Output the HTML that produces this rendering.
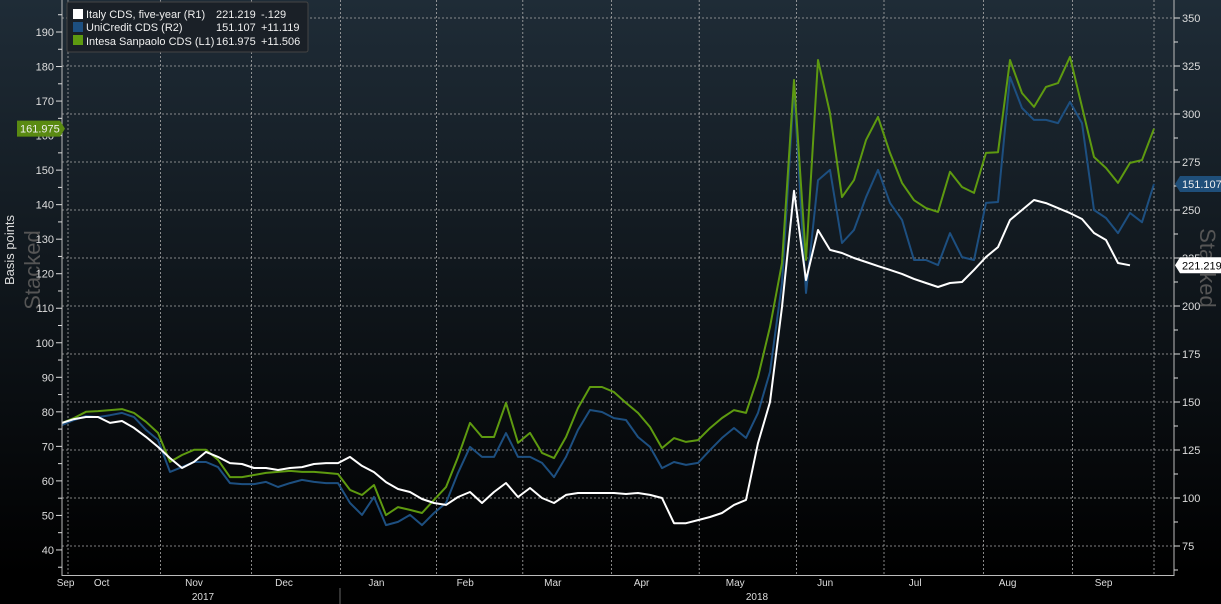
<!DOCTYPE html>
<html><head><meta charset="utf-8"><style>
html,body{margin:0;padding:0;background:#000;}
svg{display:block;font-family:"Liberation Sans",sans-serif;}
</style></head><body>
<svg id="chart" width="1221" height="604" viewBox="0 0 1221 604">
<defs><linearGradient id="bg" x1="0" y1="0" x2="0" y2="1"><stop offset="0" stop-color="#1f2c37"/><stop offset="1" stop-color="#000"/></linearGradient></defs>
<rect x="0" y="0" width="1221" height="576" fill="url(#bg)"/>
<text x="14" y="250" fill="#ddd" font-size="13" transform="rotate(-90 14 250)" text-anchor="middle">Basis points</text>
<text x="40" y="270" fill="#555" font-size="22" transform="rotate(-90 40 270)" text-anchor="middle">Stacked</text>
<text x="1200" y="268" fill="#555" font-size="22" transform="rotate(90 1200 268)" text-anchor="middle">Stacked</text>
<g id="grid"></g>
<g id="series"></g>
<g id="axes"></g>
<g>
<rect x="67" y="2" width="241" height="50" rx="2" fill="#1a2027" stroke="#444"/>
<g><rect x="73" y="9" width="10" height="10" fill="#fff"/><text x="86" y="18" fill="#eee" font-size="11">Italy CDS, five-year (R1)</text><text x="216" y="18" fill="#eee" font-size="11">221.219</text><text x="261" y="18" fill="#eee" font-size="11">-.129</text></g>
<g><rect x="73" y="22" width="10" height="10" fill="#1d4f80"/><text x="86" y="31" fill="#eee" font-size="11">UniCredit CDS (R2)</text><text x="216" y="31" fill="#eee" font-size="11">151.107</text><text x="261" y="31" fill="#eee" font-size="11">+11.119</text></g>
<g><rect x="73" y="35" width="10" height="10" fill="#5e9a10"/><text x="86" y="45" fill="#eee" font-size="11">Intesa Sanpaolo CDS (L1)</text><text x="216" y="45" fill="#eee" font-size="11">161.975</text><text x="261" y="45" fill="#eee" font-size="11">+11.506</text></g>
</g>
</svg>
<script>
const greenVals=[76.8,78.2,80.0,80.2,80.5,80.8,79.7,77.1,73.9,65.5,67.5,69.0,69.0,66.1,61.1,61.1,61.7,62.3,62.6,62.9,62.6,62.6,62.3,62.0,57.4,55.9,58.8,50.1,52.4,51.6,50.7,54.5,58.2,66.9,76.8,72.7,72.7,82.6,71.0,73.9,68.1,66.6,72.7,81.1,87.2,87.2,85.7,82.6,79.7,75.6,69.5,72.4,71.3,71.8,75.3,78.2,80.5,79.7,90.1,104.6,123.1,176.1,124.0,181.9,166.5,142.2,147.1,158.7,165.4,155.0,146.3,141.3,139.0,137.9,149.5,145.1,143.4,155.0,155.2,181.9,172.3,168.3,174.1,175.2,182.8,168.3,153.8,150.6,146.3,152.1,152.9,162.0];
const whiteVals=[139.1,141.1,142.2,142.2,139.1,140.1,136.5,131.8,126.6,120.8,115.6,118.8,124.0,121.4,118.2,117.7,115.6,115.6,114.6,115.6,116.1,117.7,118.2,118.2,121.4,116.7,113.5,108.3,104.7,103.1,99.5,97.4,96.4,100.5,103.1,97.4,103.1,107.8,100.5,105.2,100.0,97.4,101.6,102.6,102.6,102.6,102.6,102.1,102.6,101.6,100.0,86.9,86.9,88.5,90.1,92.2,96.4,99.0,128.6,150.0,199.5,260.0,213.5,239.6,229.2,227.6,225.0,222.9,220.8,218.8,216.7,214.1,212.0,209.9,212.0,212.5,218.8,225.5,230.7,244.8,250.0,255.2,253.6,251.0,248.4,245.3,238.0,234.4,222.4,221.2,null,null];
const blueVals=[75.9,77.5,78.7,78.4,79.0,79.7,78.4,74.4,71.3,61.3,62.8,64.4,64.4,62.8,57.8,57.5,57.5,58.2,56.6,57.8,58.8,58.2,57.8,57.8,51.6,47.9,53.5,44.7,45.7,47.9,44.7,48.5,51.6,61.0,69.1,66.0,66.0,73.4,66.0,66.0,64.1,59.7,66.0,74.4,80.6,80.0,78.1,77.5,72.2,69.1,62.5,64.4,63.5,64.1,68.1,71.9,75.0,71.9,79.7,92.5,120.2,181.0,117.1,152.3,155.5,132.7,136.8,147.0,155.5,145.2,139.9,127.4,127.4,125.8,135.8,128.3,127.4,145.2,145.5,184.5,174.8,171.1,171.1,170.1,176.7,170.1,143.0,140.5,135.8,142.1,139.2,151.1];
const leftTicks=[40,50,60,70,80,90,100,110,120,130,140,150,160,170,180,190];
const rightTicks=[75,100,125,150,175,200,225,250,275,300,325,350];
const monthLabels=["Sep","Oct","Nov","Dec","Jan","Feb","Mar","Apr","May","Jun","Jul","Aug","Sep"];
const monthPos=[0.3,3.3,11,18.5,26.2,33.6,40.9,48.3,56.1,63.6,71.1,78.8,86.8];
const gridPos=[0.5,8.2,15.8,23.2,31.2,38.4,45.8,53.1,61.2,68.5,76.8,84.2,91];

const NS="http://www.w3.org/2000/svg";
const X=i=>62+i*12;
const yL=v=>32+(190-v)*3.453;
const yR1=v=>258+(225-v)*1.92;
const yR2=v=>184+(151.107-v)*3.206;
function mk(tag,attrs,parent){const e=document.createElementNS(NS,tag);for(const k in attrs)e.setAttribute(k,attrs[k]);parent.appendChild(e);return e;}
const grid=document.getElementById('grid'),axes=document.getElementById('axes'),ser=document.getElementById('series');
rightTicks.forEach(t=>{const l=mk('line',{x1:62,x2:1174,y1:yR1(t),y2:yR1(t),stroke:'#aaa','stroke-width':0.8,'stroke-dasharray':'2,2'},grid);

});
gridPos.forEach(g=>{const l=mk('line',{x1:X(g),x2:X(g),y1:0,y2:575,stroke:'#aaa','stroke-width':0.8,'stroke-dasharray':'2,2'},grid);

});
mk('line',{x1:62,x2:62,y1:0,y2:576,stroke:'#bbb'},axes);
mk('line',{x1:1174,x2:1174,y1:0,y2:576,stroke:'#bbb'},axes);
mk('line',{x1:62,x2:1174,y1:575.5,y2:575.5,stroke:'#bbb'},axes);
mk('line',{x1:340,x2:340,y1:588,y2:604,stroke:'#666'},axes);
for(let v=35;v<=195;v+=5){mk('line',{x1:v%10?58:56,x2:62,y1:yL(v),y2:yL(v),stroke:'#ddd'},axes);}
leftTicks.forEach(t=>{const e=mk('text',{x:54,y:yL(t)+4,fill:'#ddd','font-size':11,'text-anchor':'end'},axes);e.textContent=t;

});
for(let v=62.5;v<=350;v+=12.5){mk('line',{x1:1174,x2:v%25?1178:1180,y1:yR1(v),y2:yR1(v),stroke:'#ddd'},axes);}
rightTicks.forEach(t=>{const e=mk('text',{x:1182,y:yR1(t)+4,fill:'#ddd','font-size':11},axes);e.textContent=t;

});
monthLabels.forEach((m,i)=>{const e=mk('text',{x:X(monthPos[i]),y:586,fill:'#ddd','font-size':10,'text-anchor':'middle'},axes);e.textContent=m;

});
[["2017",203],["2018",757]].forEach(([t,x])=>{const e=mk('text',{x:x,y:600,fill:'#ddd','font-size':10,'text-anchor':'middle'},axes);e.textContent=t;

});
function line(vals,yf,color,name){let d='',pen=false;vals.forEach((v,i)=>{if(v==null){pen=false;return;}d+=(pen?'L':'M')+X(i)+','+yf(v).toFixed(1);pen=true;});
const p=mk('path',{d:d,fill:'none',stroke:color,'stroke-width':2,'stroke-linejoin':'round'},ser);

}
line(blueVals,yR2,'#1d4f80','unicredit-line');
line(greenVals,yL,'#5e9a10','intesa-line');
line(whiteVals,yR1,'#ffffff','italy-line');
function tag(x,y,w,bg,fg,txt,left,name){const g=mk('g',{},axes);


const pts=left?`${x},${y-8} ${x+w},${y-8} ${x+w+5},${y} ${x+w},${y+8} ${x},${y+8}`:`${x},${y} ${x+5},${y-8} ${x+w},${y-8} ${x+w},${y+8} ${x+5},${y+8}`;
mk('polygon',{points:pts,fill:bg},g);const t=mk('text',{x:left?x+3:x+7,y:y+4,fill:fg,'font-size':11},g);t.textContent=txt;}
tag(17,yL(greenVals[greenVals.length-1]),43,'#5a8a12','#eee','161.975',true,'intesa-value-tag');
tag(1175,yR2(blueVals[blueVals.length-1]),46,'#1f4f7a','#eee','151.107',false,'unicredit-value-tag');
tag(1175,yR1(221.219),46,'#ffffff','#000','221.219',false,'italy-value-tag');
</script>
</body></html>
